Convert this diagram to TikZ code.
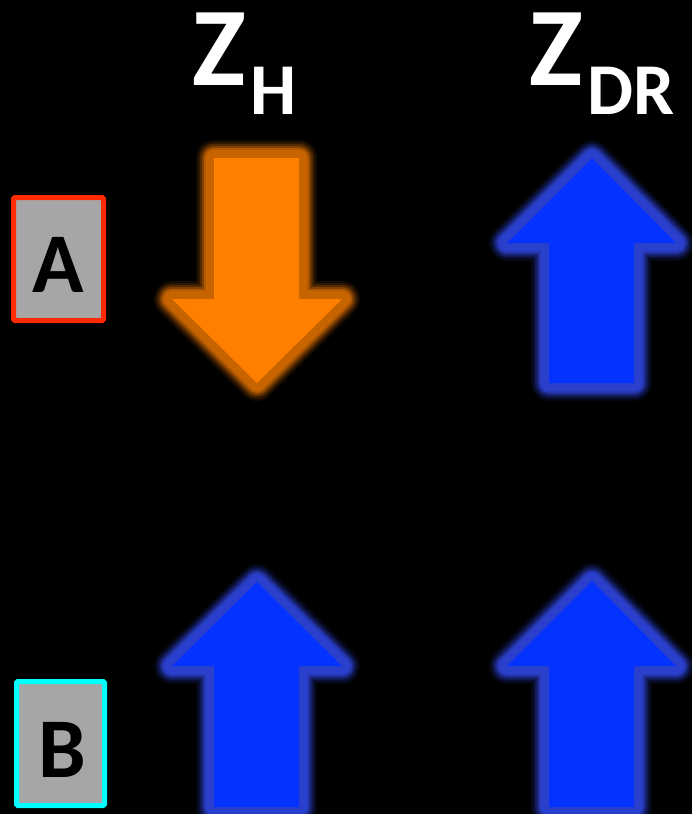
\documentclass[tikz,border=0pt]{standalone}
\usepackage{fontspec}
\setmainfont{Carlito}
\definecolor{arrorange}{HTML}{FF7F00}
\definecolor{gloworange}{HTML}{C86400}
\definecolor{arrblue}{HTML}{0433FF}
\definecolor{glowblue}{HTML}{2A40CC}
\definecolor{boxgray}{HTML}{A6A6A6}
\definecolor{boxred}{HTML}{FF2A00}
\definecolor{boxcyan}{HTML}{00FFFF}
\newcommand\glowshape[3]{%
  \foreach \w/\o in {36/0.1,32/0.15,28/0.25,24/0.4,20/0.7,16/1}{\draw[#1, line width=\w pt, line join=round, opacity=\o] #3;}
  \fill[#2] #3;}
\tikzset{
  letterbox/.style={fill=boxgray, line width=5pt, rounded corners=1.5pt, inner sep=0pt, minimum width=90pt, minimum height=123pt},
  boxletter/.style={anchor=base, inner sep=0pt, text=black, font=\fontsize{85}{85}\selectfont\bfseries},
  heading/.style={anchor=base west, inner sep=0pt, text=white, font=\fontsize{112}{112}\selectfont\bfseries}
}
\begin{document}
\begin{tikzpicture}[x=1pt,y=-1pt]
\fill[black] (0,0) rectangle (692,814);
\useasboundingbox (0,0) rectangle (692,814);
% headings
\node[heading] (zh) at (192,85) {Z\kern5pt\raisebox{-29pt}{\fontsize{73}{73}\selectfont H}};
\node[heading] (zdr) at (529,85) {Z\kern5pt\raisebox{-29pt}{\fontsize{73}{73}\selectfont DR}};
% boxes
\node[letterbox, draw=boxred] (boxA) at (58.5,259) {};
\node[boxletter] (labA) at (58,292) {A};
\node[letterbox, draw=boxcyan, minimum width=88pt, minimum height=124pt] (boxB) at (60.5,743.5) {};
\node[boxletter] (labB) at (62,777) {B};
% arrows
\glowshape{gloworange}{arrorange}{(214,158) -- (299,158) -- (299,299) -- (342,299) -- (257,383) -- (172,299) -- (214,299) -- cycle}
\glowshape{glowblue}{arrblue}{(592,158) -- (676,243) -- (634,243) -- (634,383) -- (549,383) -- (549,243) -- (507,243) -- cycle}
\glowshape{glowblue}{arrblue}{(257,582) -- (342,666) -- (299,666) -- (299,807) -- (214,807) -- (214,666) -- (172,666) -- cycle}
\glowshape{glowblue}{arrblue}{(592,581) -- (676,666) -- (634,666) -- (634,807) -- (549,807) -- (549,666) -- (507,666) -- cycle}
\end{tikzpicture}
\end{document}
